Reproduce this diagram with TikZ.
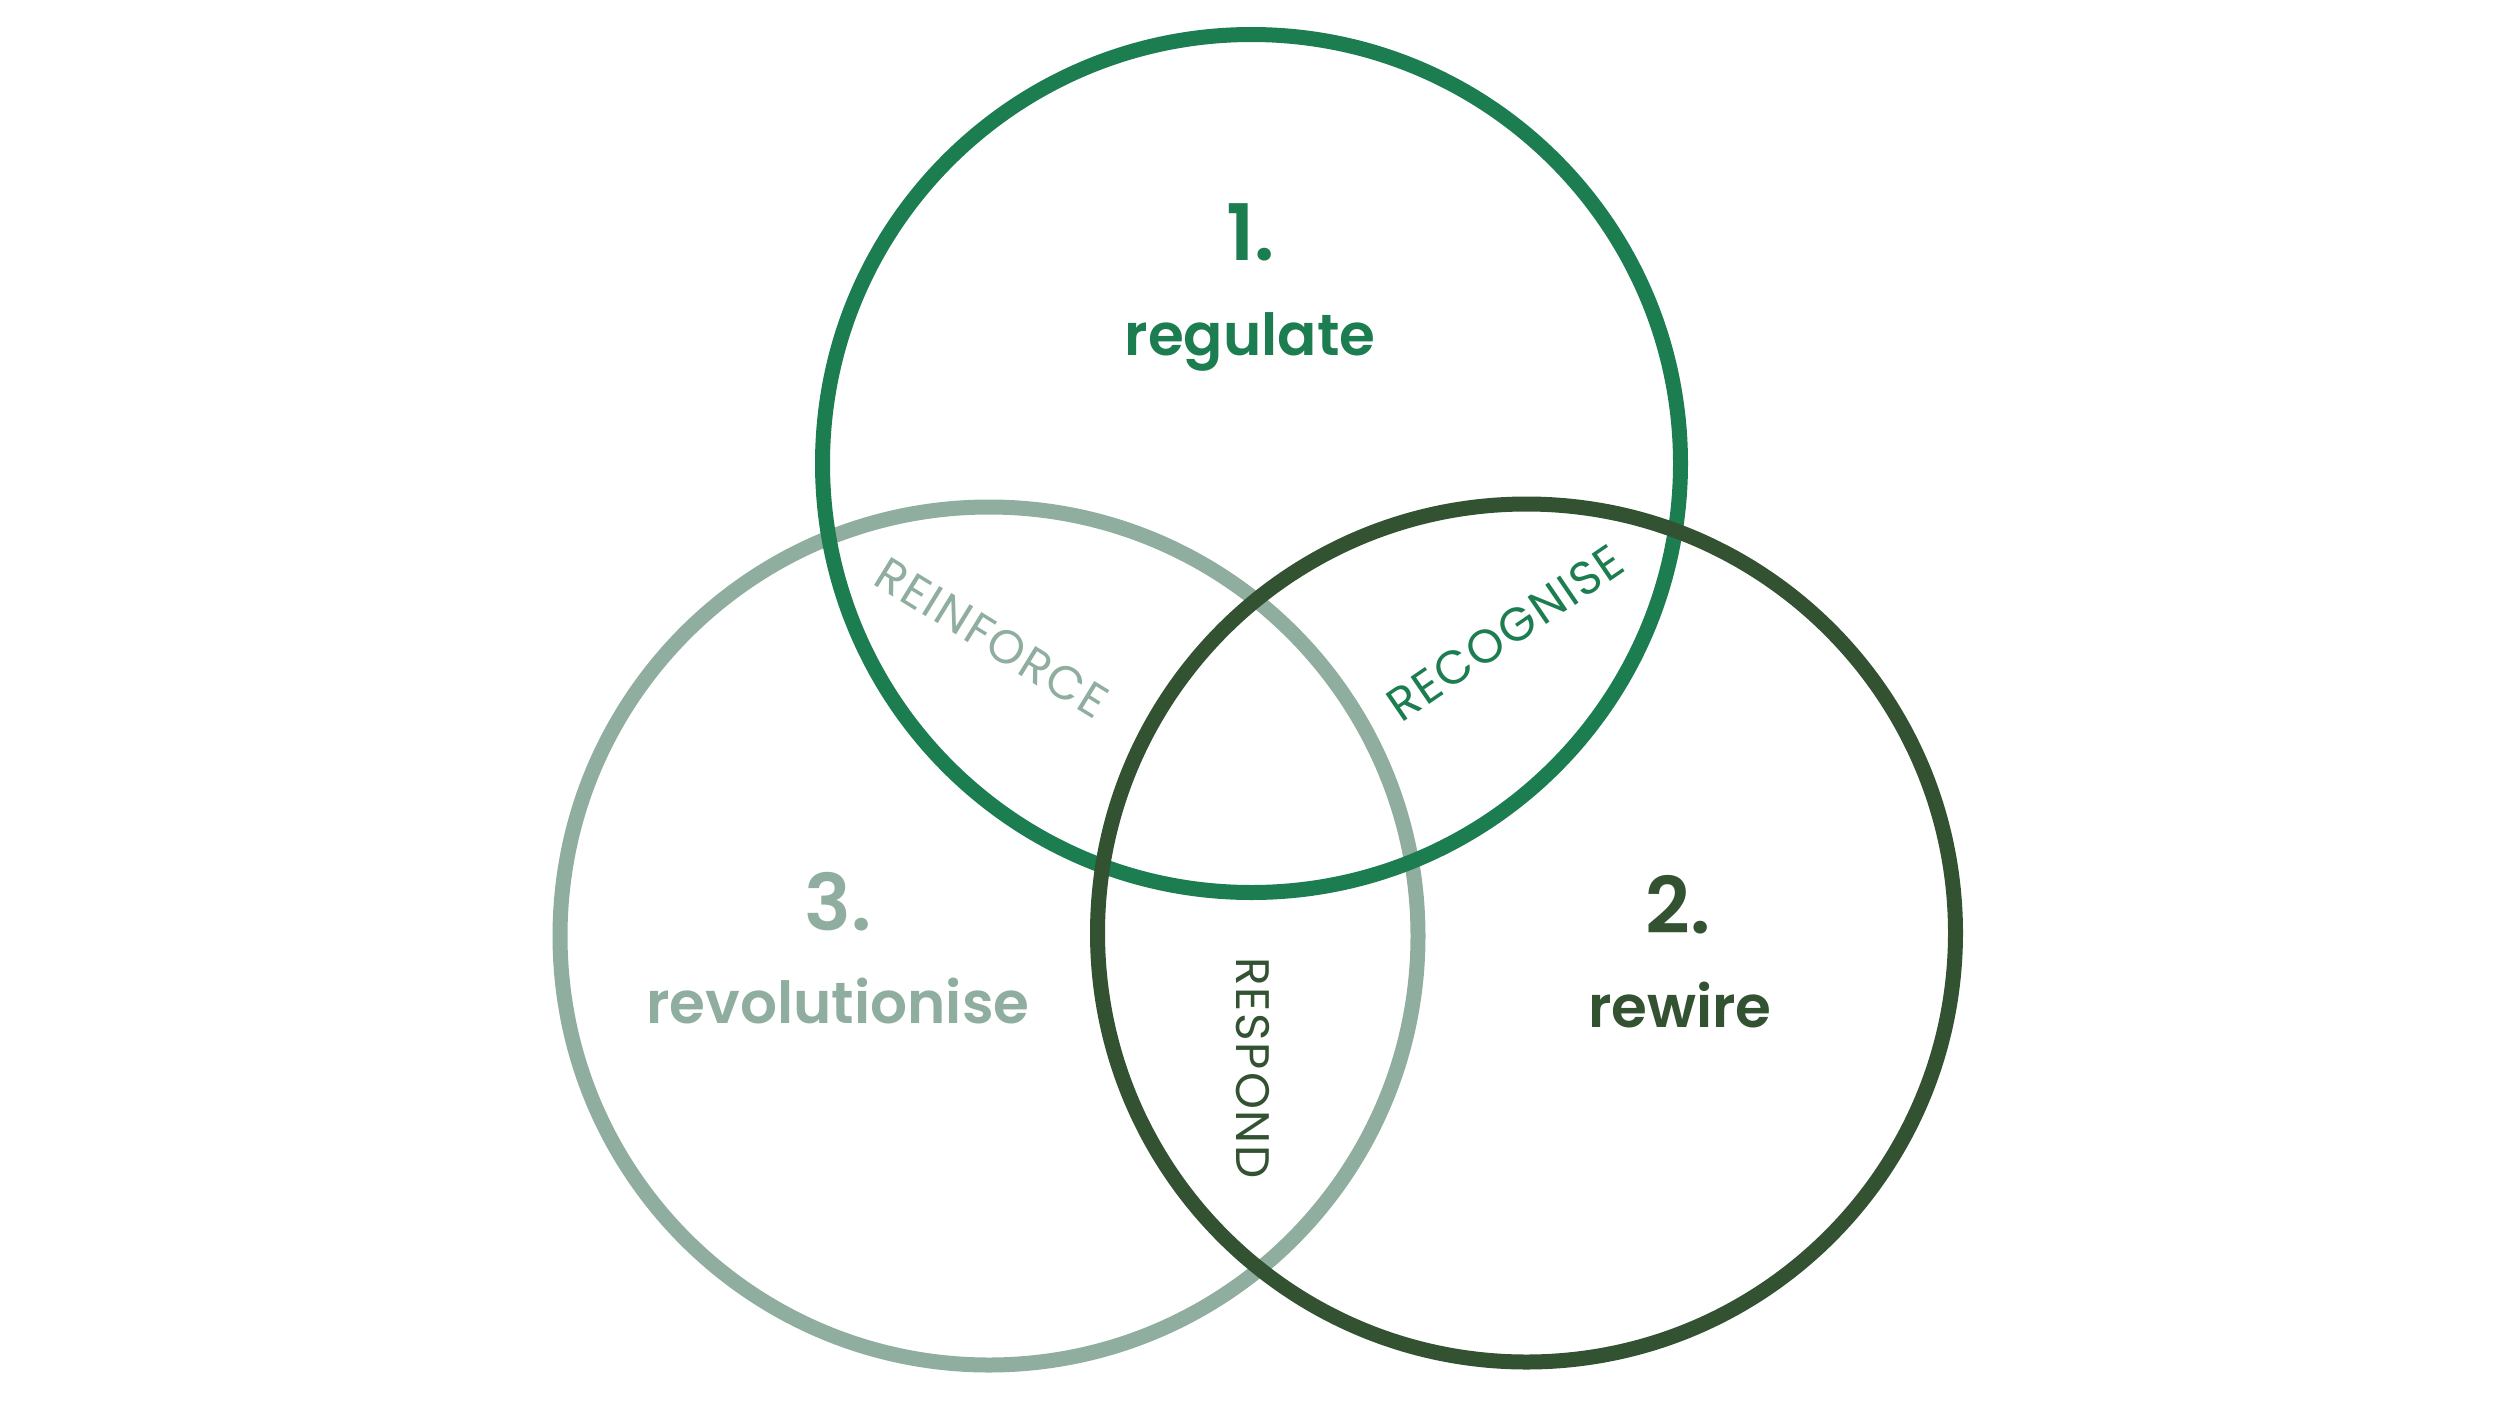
\documentclass[tikz,border=0pt]{standalone}
\usepackage{fontspec}
\setmainfont{Poppins}[BoldFont={Poppins SemiBold}]
\newfontfamily\capsf[LetterSpace=4]{Poppins}
\definecolor{cTop}{HTML}{1B7D50}
\definecolor{cLeft}{HTML}{8FAE9F}
\definecolor{cRight}{HTML}{325232}
\begin{document}
\begin{tikzpicture}[x=1pt,y=-1pt,
  ring/.style={line width=15pt},
  num/.style={font=\fontsize{78}{80}\selectfont\bfseries, anchor=base, inner sep=0pt},
  word/.style={font=\fontsize{58}{60}\selectfont\bfseries, anchor=base, inner sep=0pt},
  caplabel/.style={font=\fontsize{47}{50}\selectfont\capsf, inner sep=0pt}]
\path[use as bounding box, fill=white] (0,0) rectangle (2500,1414);
% circles
\draw[ring, cLeft]  (989,936) circle[radius=429];
\draw[ring, cTop]   (1251.5,463.5) circle[radius=429];
\draw[ring, cRight] (1526.5,933) circle[radius=429];
% main labels
\node[num, cTop] (n1) at (1251,260) {1.};
\node[word, cTop] (w1) at (1250,355) {regulate};
\node[num, cLeft] (n3) at (838,930) {3.};
\node[word, cLeft] (w3) at (838,1023) {revolutionise};
\node[num, cRight] (n2) at (1678,933) {2.};
\node[word, cRight] (w2) at (1680,1027) {rewire};
% overlap labels
\node[caplabel, cLeft, rotate=-31.6] (reinforce) at (992,638) {REINFORCE};
\node[caplabel, cTop, rotate=34.3] (recognise) at (1505,633) {RECOGNISE};
\node[caplabel, cRight, rotate=-90] (respond) at (1253,1068) {RESPOND};
\end{tikzpicture}
\end{document}
